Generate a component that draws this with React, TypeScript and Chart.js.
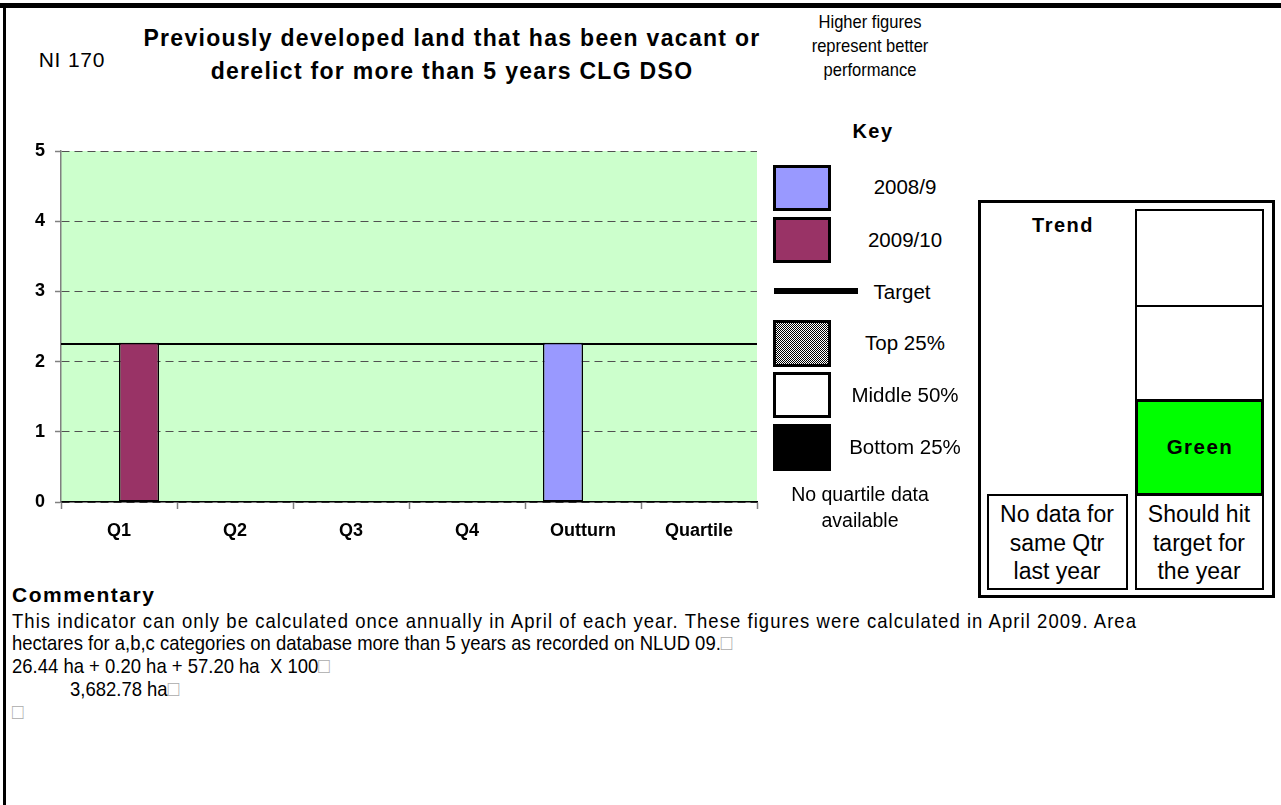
import React, { useEffect, useRef } from 'react';
import { Chart, registerables } from 'chart.js';

Chart.register(...registerables);

const categories = ['Q1', 'Q2', 'Q3', 'Q4', 'Outturn', 'Quartile'];
const values2008 = [null, null, null, null, 2.27, null];
const values2009 = [2.27, null, null, null, null, null];
const targetValue = 2.25;
const yTicks = [0, 1, 2, 3, 4, 5];
const seriesNames = ['2008/9', '2009/10'];
const seriesColors = ['#9999FF', '#993366'];
const legendLabels = ['2008/9', '2009/10', 'Target', 'Top 25%', 'Middle 50%', 'Bottom 25%'];
const titleLines = ['Previously developed land that has been vacant or', 'derelict for more than 5 years CLG DSO'];
const noteLines = ['Higher figures', 'represent better', 'performance'];
const quartileNote = ['No quartile data', 'available'];
const trendLeft = ['No data for', 'same Qtr', 'last year'];
const trendRight = ['Should hit', 'target for', 'the year'];
const commentaryLines = [
  'This indicator can only be calculated once annually in April of each year. These figures were calculated in April 2009. Area',
  'hectares for a,b,c categories on database more than 5 years as recorded on NLUD 09.',
  '26.44 ha + 0.20 ha + 57.20 ha  X 100',
  '3,682.78 ha',
  '',
];
const commentaryIndent = [0, 0, 0, 58, 0];

const FONT = '"Liberation Sans", Arial, Helvetica, sans-serif';

function Txt(props: { x: number; y: number; size: number; bold?: boolean; ls?: number; sx?: number; children: any; align?: string }) {
  const { x, y, size, bold, ls, sx, children, align } = props;
  const tx = align === 'left' ? '0' : '-50%';
  return (
    <div
      style={{
        position: 'absolute',
        left: x,
        top: y,
        transform: `translate(${tx}, -50%)${sx ? ` scaleX(${sx})` : ''}`,
        transformOrigin: align === 'left' ? 'left center' : 'center center',
        fontFamily: FONT,
        fontSize: size,
        fontWeight: bold ? 'bold' : 'normal',
        letterSpacing: ls ? `${ls}px` : 'normal',
        whiteSpace: 'pre',
        lineHeight: 1,
        color: '#000',
      }}
    >
      {children}
    </div>
  );
}

function Box(props: { l: number; t: number; w: number; h: number; bw?: number; bg?: string }) {
  const { l, t, w, h, bw, bg } = props;
  return (
    <div
      style={{
        position: 'absolute',
        left: l,
        top: t,
        width: w,
        height: h,
        boxSizing: 'border-box',
        border: `${bw ?? 2}px solid #000`,
        background: bg ?? '#fff',
      }}
    />
  );
}

function BarChart() {
  const ref = useRef<HTMLCanvasElement>(null);
  useEffect(() => {
    if (!ref.current) return;
    const bgPlugin = {
      id: 'plotBg',
      beforeDraw(chart: any) {
        const { ctx, chartArea } = chart;
        ctx.save();
        ctx.fillStyle = '#CCFFCC';
        ctx.fillRect(chartArea.left, chartArea.top, chartArea.right - chartArea.left, chartArea.bottom - chartArea.top);
        ctx.restore();
      },
    };
    const targetPlugin = {
      id: 'targetLine',
      beforeDatasetsDraw(chart: any) {
        const { ctx, chartArea, scales } = chart;
        const y = scales.y.getPixelForValue(targetValue);
        ctx.save();
        ctx.strokeStyle = '#000';
        ctx.lineWidth = 2;
        ctx.beginPath();
        ctx.moveTo(chartArea.left, y);
        ctx.lineTo(chartArea.right, y);
        ctx.stroke();
        ctx.restore();
      },
    };
    const chart = new Chart(ref.current, {
      type: 'bar',
      data: {
        labels: categories,
        datasets: [
          {
            label: seriesNames[0],
            data: values2008,
            backgroundColor: seriesColors[0],
            borderColor: '#000',
            borderWidth: 1.5,
            borderSkipped: false,
          },
          {
            label: seriesNames[1],
            data: values2009,
            backgroundColor: seriesColors[1],
            borderColor: '#000',
            borderWidth: 1.5,
            borderSkipped: false,
          },
        ],
      },
      options: {
        responsive: false,
        animation: false,
        events: [],
        layout: { padding: { left: 0, top: 31, right: 23, bottom: 10 } },
        datasets: { bar: { categoryPercentage: 0.69, barPercentage: 1 } },
        plugins: { legend: { display: false }, tooltip: { enabled: false }, title: { display: false } },
        scales: {
          x: {
            afterFit: (s: any) => {
              s.height = 48;
            },
            grid: {
              offset: true,
              drawOnChartArea: false,
              drawTicks: true,
              tickLength: 7,
              tickColor: '#808080',
              tickWidth: 1.5,
            },
            border: { display: true, color: '#000', width: 1.5 },
            ticks: {
              color: '#000',
              font: { family: FONT, size: 18, weight: 'bold' },
              padding: 11,
              maxRotation: 0,
              autoSkip: false,
            },
          },
          y: {
            min: yTicks[0],
            max: yTicks[yTicks.length - 1],
            afterFit: (s: any) => {
              s.width = 61;
            },
            afterBuildTicks: (s: any) => {
              s.ticks = yTicks.map((v) => ({ value: v }));
            },
            grid: {
              color: '#505050',
              lineWidth: 1,
              drawTicks: true,
              tickLength: 6,
              tickColor: '#808080',
              tickWidth: 1.5,
              tickBorderDash: [],
            },
            border: { display: true, color: '#808080', width: 1.5, dash: [8, 5] },
            ticks: {
              color: '#000',
              font: { family: FONT, size: 18, weight: 'bold' },
              padding: 10,
            },
          },
        },
      },
      plugins: [bgPlugin, targetPlugin],
    } as any);
    return () => chart.destroy();
  }, []);
  return (
    <canvas
      ref={ref}
      width={780}
      height={440}
      style={{ position: 'absolute', left: 0, top: 120, width: 780, height: 440 }}
    />
  );
}

const sq = <span style={{ color: '#aaa', fontSize: 22, fontWeight: 'normal', letterSpacing: 0 }}>□</span>;

export default function App() {
  const legendTops = [187, 240, 292, 343, 395, 447];
  const cx = 0.88;
  return (
    <div
      style={{
        position: 'absolute',
        left: 0,
        top: 0,
        width: 1281,
        height: 805,
        background: '#fff',
        overflow: 'hidden',
        fontFamily: FONT,
      }}
    >
      <BarChart />
      {/* page borders */}
      <div style={{ position: 'absolute', left: 0, top: 3, width: 1281, height: 5, background: '#000' }} />
      <div style={{ position: 'absolute', left: 3, top: 3, width: 3, height: 802, background: '#000' }} />

      <Txt x={72} y={59} size={21} ls={0.8}>NI 170</Txt>
      <Txt x={452} y={38} size={23} bold ls={1.3}>{titleLines[0]}</Txt>
      <Txt x={452} y={71} size={23} bold ls={1.3}>{titleLines[1]}</Txt>
      {noteLines.map((t, i) => (
        <Txt key={t} x={870} y={21 + i * 24} size={19} sx={0.87}>{t}</Txt>
      ))}

      {/* Key */}
      <Txt x={873} y={131} size={20} bold ls={1.5}>Key</Txt>
      <Box l={773} t={165} w={58} h={46} bw={3} bg={seriesColors[0]} />
      <Box l={773} t={217} w={58} h={46} bw={3} bg={seriesColors[1]} />
      <div style={{ position: 'absolute', left: 774, top: 288, width: 84, height: 6, background: '#000' }} />
      <Box
        l={773}
        t={320}
        w={58}
        h={47}
        bw={3}
        bg="repeating-conic-gradient(#000 0 25%, #fff 0 50%) 0 0 / 2px 2px"
      />
      <Box l={773} t={372} w={58} h={46} bw={3} bg="#fff" />
      <Box l={773} t={424} w={58} h={47} bw={3} bg="#000" />
      {legendLabels.map((t, i) => (
        <Txt key={t} x={i === 2 ? 902 : 905} y={legendTops[i]} size={20.5}>{t}</Txt>
      ))}
      {quartileNote.map((t, i) => (
        <Txt key={t} x={860} y={495 + i * 26} size={19.5}>{t}</Txt>
      ))}

      {/* Trend panel */}
      <Box l={978} t={200} w={297} h={398} bw={3} />
      <Txt x={1063} y={225} size={20} bold ls={1.5}>Trend</Txt>
      <Box l={1135} t={209} w={129} h={98} bw={2} />
      <Box l={1135} t={305} w={129} h={97} bw={2} />
      <Box l={1135} t={399} w={129} h={97} bw={3} bg="#00FF00" />
      <Txt x={1200} y={447} size={20.5} bold ls={1.5}>Green</Txt>
      <Box l={1135} t={494} w={129} h={96} bw={2} />
      <Box l={987} t={494} w={141} h={96} bw={2} />
      {trendLeft.map((t, i) => (
        <Txt key={t} x={1057} y={514 + i * 28.5} size={23}>{t}</Txt>
      ))}
      {trendRight.map((t, i) => (
        <Txt key={t} x={1199} y={514 + i * 28.5} size={23}>{t}</Txt>
      ))}

      {/* Commentary */}
      <Txt x={12} y={594} size={21} bold ls={1.5} align="left">Commentary</Txt>
      <Txt x={12} y={620} size={21} align="left" sx={cx} ls={1.2}>{commentaryLines[0]}</Txt>
      {commentaryLines.slice(1).map((t, i) => (
        <Txt key={i} x={12 + commentaryIndent[i + 1]} y={643 + i * 23} size={21} align="left" sx={cx}>
          {t}
          {sq}
        </Txt>
      ))}
    </div>
  );
}
